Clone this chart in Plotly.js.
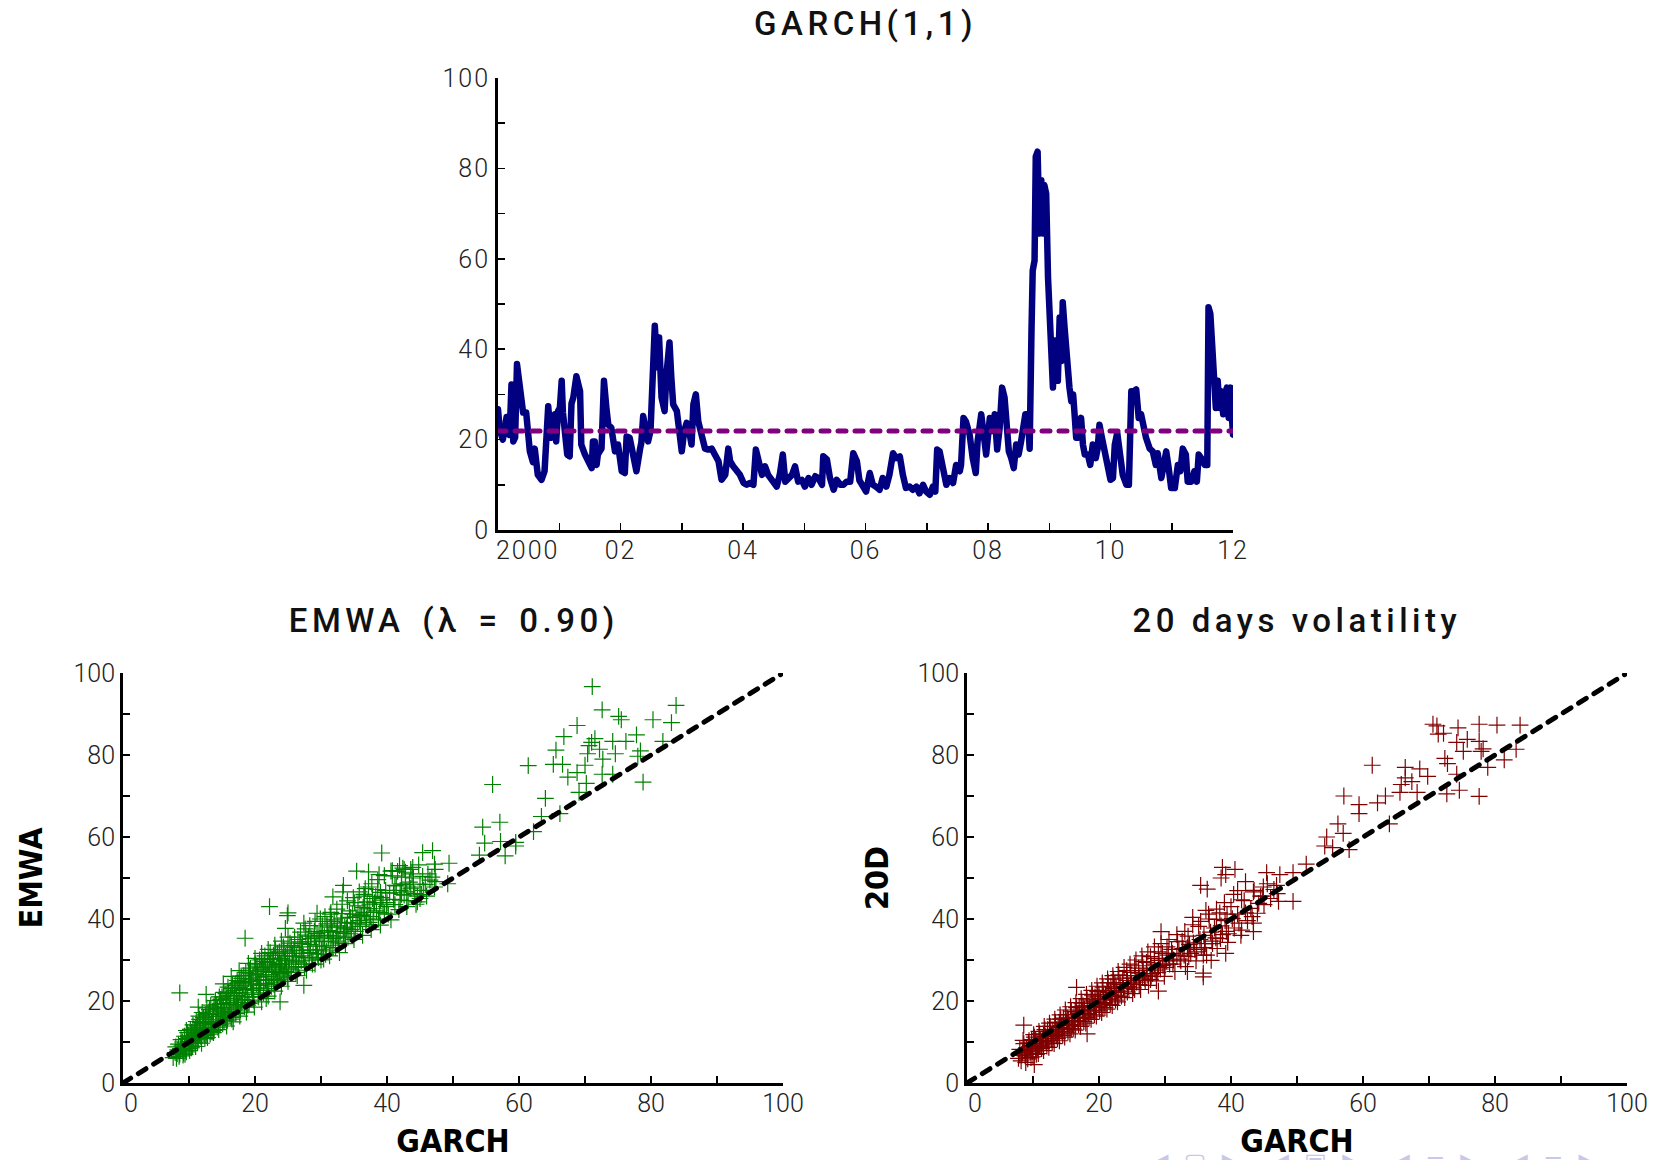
<!DOCTYPE html>
<html><head><meta charset="utf-8">
<script src="https://cdn.plot.ly/plotly-3.0.1.min.js"></script>
<style>
html,body{margin:0;padding:0;background:#fff;}
#chart{width:1660px;height:1160px;}
.xtick text,.ytick text{letter-spacing:2px;}
.js-line{stroke-linecap:round;stroke-linejoin:round;}
</style></head><body><div id="chart"></div>
<script>
// ---- GARCH(1,1) volatility over time (decimal years) ----
const garchDates = [
2000.00,2000.03,2000.08,2000.14,2000.19,2000.22,2000.25,2000.28,2000.31,2000.34,
2000.38,2000.41,2000.46,2000.49,2000.52,2000.57,2000.60,2000.65,2000.71,2000.76,
2000.79,2000.82,2000.84,2000.87,2000.90,2000.93,2000.95,2000.98,2001.01,2001.04,
2001.06,2001.09,2001.13,2001.17,2001.20,2001.23,2001.28,2001.34,2001.36,2001.42,
2001.47,2001.53,2001.55,2001.58,2001.61,2001.63,2001.69,2001.73,2001.77,2001.80,
2001.85,2001.91,2001.96,2002.02,2002.07,2002.10,2002.15,2002.21,2002.26,2002.32,
2002.34,2002.37,2002.40,2002.45,2002.49,2002.52,2002.56,2002.60,2002.63,2002.67,
2002.70,2002.72,2002.75,2002.80,2002.83,2002.86,2002.92,2002.97,2003.00,2003.04,
2003.08,2003.12,2003.16,2003.19,2003.23,2003.27,2003.30,2003.34,2003.38,2003.43,
2003.49,2003.54,2003.60,2003.65,2003.71,2003.76,2003.79,2003.84,2003.90,2003.95,
2004.01,2004.06,2004.11,2004.17,2004.21,2004.25,2004.31,2004.36,2004.41,2004.47,
2004.55,2004.60,2004.65,2004.69,2004.74,2004.80,2004.85,2004.90,2004.96,2005.01,
2005.07,2005.12,2005.18,2005.23,2005.29,2005.31,2005.37,2005.42,2005.48,2005.53,
2005.59,2005.64,2005.69,2005.75,2005.80,2005.86,
2005.90,2005.96,2006.01,2006.07,2006.12,2006.17,2006.23,2006.28,2006.34,2006.39,
2006.45,2006.50,2006.56,2006.61,2006.66,2006.72,2006.77,2006.83,2006.88,2006.94,
2006.99,2007.05,2007.10,2007.14,2007.17,2007.21,2007.26,2007.32,2007.37,2007.43,
2007.48,2007.54,2007.56,2007.60,2007.64,2007.70,2007.75,2007.80,2007.83,2007.89,
2007.93,2007.97,2008.03,2008.07,2008.11,2008.15,2008.19,2008.23,2008.27,2008.30,
2008.34,2008.38,2008.42,2008.46,2008.50,2008.54,2008.58,2008.61,2008.65,2008.68,
2008.71,2008.73,2008.76,2008.78,2008.81,2008.84,2008.87,2008.90,2008.92,2008.95,
2008.98,2009.01,2009.03,2009.06,2009.09,2009.11,2009.14,2009.17,2009.20,2009.22,
2009.25,2009.28,2009.30,2009.33,2009.36,2009.39,2009.41,2009.44,2009.47,2009.50,
2009.52,2009.55,2009.58,2009.63,2009.67,2009.71,2009.76,2009.79,2009.82,2009.85,
2009.90,2009.96,2010.00,2010.04,2010.07,2010.11,2010.15,2010.20,2010.26,2010.30,
2010.34,2010.38,2010.42,2010.46,2010.50,2010.54,2010.58,2010.64,2010.69,2010.74,
2010.77,2010.83,2010.87,2010.91,2010.95,2010.99,2011.05,2011.10,2011.14,2011.18,
2011.23,2011.26,2011.32,2011.37,2011.41,2011.44,2011.48,2011.54,2011.58,2011.60,
2011.63,2011.66,2011.69,2011.72,2011.75,2011.78,2011.81,2011.84,2011.87,2011.90,
2011.93,2011.96,2011.98,2012.00];
const garchVol = [
26.7,22.0,20.0,25.0,21.0,32.2,19.6,20.5,36.7,33.0,
30.0,26.0,26.0,22.6,17.4,15.0,18.0,12.2,11.1,13.0,
18.0,27.4,24.0,20.4,22.6,25.6,19.6,26.3,27.0,33.0,
26.0,20.4,16.7,16.3,28.0,29.3,34.0,30.7,18.9,16.7,
15.2,13.7,19.6,19.6,14.4,16.7,18.0,33.0,27.0,23.3,
22.6,17.4,18.9,13.0,12.6,20.7,20.4,16.7,13.0,18.0,
19.3,25.2,22.6,19.6,21.9,30.4,45.2,36.0,42.6,29.3,
27.0,26.3,34.4,41.5,33.7,27.8,26.3,21.9,17.4,21.9,
23.7,21.9,18.9,27.8,30.0,24.0,21.9,19.6,18.0,17.8,
18.0,16.7,15.2,11.1,12.2,18.0,15.2,14.1,13.0,12.2,
10.4,10.0,10.4,10.0,17.8,15.6,12.2,14.1,12.2,11.1,
9.6,12.2,16.7,10.7,11.5,12.2,14.1,10.7,11.1,9.6,
11.5,10.0,11.9,11.5,10.0,16.3,15.6,11.5,8.9,11.1,
10.0,10.0,10.7,10.7,17.0,15.2,
11.0,9.3,8.5,12.6,10.0,9.6,8.9,11.5,9.6,12.2,
17.0,15.9,16.3,12.2,9.3,9.6,8.9,9.6,8.1,10.0,
8.5,7.8,9.6,8.5,17.8,17.4,13.0,10.0,11.5,10.4,
14.4,13.0,14.4,24.8,24.0,21.1,15.9,12.6,19.6,25.6,
21.1,16.7,24.8,21.9,25.6,17.8,22.6,31.5,29.3,21.9,
17.4,15.9,13.7,18.9,16.7,19.6,22.6,25.6,25.6,18.0,
44.1,57.4,59.6,82.6,83.7,65.6,77.4,65.6,76.3,74.4,
55.9,42.6,37.4,31.5,41.9,33.0,33.0,47.0,37.4,50.4,
44.8,38.9,37.4,31.5,28.5,30.0,26.3,20.4,20.4,24.0,
24.8,18.9,16.7,16.7,14.4,18.9,15.9,18.0,23.3,21.1,
17.4,13.0,11.1,11.5,18.9,21.5,16.7,12.2,10.0,10.0,
30.7,30.7,31.1,24.8,25.6,21.9,20.4,18.0,17.4,14.4,
17.0,11.5,15.6,17.4,13.7,9.3,9.3,14.4,13.0,18.0,
16.7,10.7,10.7,13.0,10.7,16.7,15.9,14.4,14.4,49.3,
47.8,41.9,33.0,27.0,33.0,27.0,30.7,25.6,30.0,31.5,
24.8,31.5,25.6,21.1];
const garchMeanDates = [2000, 2012];
const garchMean = [21.9, 21.9];

// ---- EMWA (lambda = 0.90) vs GARCH: [GARCH, EMWA] ----
const emwaPairs = [
[7.6,6.2],[7.9,7.4],[8.1,6.0],[8.3,8.1],[8.4,9.5],[8.6,7.0],[8.8,10.6],[9.0,8.2],[9.1,6.8],[9.3,11.4],
[9.4,9.3],[9.6,7.6],[9.8,12.3],[9.9,10.1],[10.0,8.4],[10.2,13.1],[10.3,11.2],[10.5,9.0],[10.6,14.2],[10.8,12.0],
[10.9,9.8],[11.1,15.0],[11.2,12.9],[11.4,10.5],[11.5,16.3],[11.7,13.6],[11.8,11.3],[12.0,17.2],[12.1,14.5],[12.3,12.0],
[12.4,10.8],[12.6,15.6],[12.7,18.3],[12.9,13.1],[13.0,16.8],[13.2,11.9],[13.3,19.0],[13.5,14.2],[13.6,17.5],[13.8,12.8],
[14.0,20.1],[14.1,15.4],[14.3,18.2],[14.4,13.6],[14.6,21.0],[14.8,16.3],[14.9,19.4],[15.1,14.4],[15.3,22.1],[15.4,17.1],
[15.6,20.2],[15.8,15.3],[15.9,23.4],[16.1,18.0],[16.3,21.3],[16.4,16.0],[16.6,24.2],[16.8,19.1],[16.9,22.6],[17.1,16.9],
[17.3,25.0],[17.4,20.0],[17.6,23.3],[17.8,17.8],[17.9,26.1],[18.1,21.0],[18.3,24.5],[18.4,18.6],[18.6,27.0],[18.8,22.0],
[19.0,25.4],[19.1,19.4],[19.3,28.0],[19.5,23.0],[19.7,26.3],[19.8,20.2],[20.0,29.1],[20.2,24.1],[20.4,27.3],[20.5,21.0],
[20.7,30.0],[20.9,25.0],[21.1,28.2],[21.3,22.0],[21.5,31.0],[21.7,26.0],[21.9,29.4],[22.1,23.0],[22.3,31.8],[22.5,27.0],
[22.7,30.1],[22.9,24.0],[23.1,32.5],[23.3,28.1],[23.5,25.2],[23.7,31.1],[23.9,29.0],[24.1,26.1],[24.3,33.2],[24.5,30.0],
[24.7,27.2],[24.9,32.0],[25.1,28.0],[25.3,34.1],[25.6,30.9],[25.8,29.0],[26.0,33.0],[26.2,27.0],[26.5,35.0],[26.7,31.6],
[27.0,29.8],[27.2,34.0],[27.5,28.2],[27.7,36.1],[28.0,32.5],[28.2,30.5],[28.5,35.2],[28.7,29.0],[29.0,37.0],[29.2,33.4],
[29.5,31.4],[29.7,36.0],[30.0,30.0],[30.2,38.3],[30.5,34.5],[30.8,32.2],[31.0,37.2],[31.3,31.0],[31.6,39.4],[31.9,35.2],
[32.2,33.0],[32.5,38.3],[32.8,31.8],[33.1,40.2],[33.4,36.5],[33.7,34.0],[34.0,39.2],[34.3,42.0],[34.6,37.4],[35.0,35.0],
[35.3,40.5],[35.6,43.2],[36.0,38.2],[36.3,36.0],[36.6,41.6],[37.0,44.2],[37.3,39.2],[37.6,37.4],[38.0,42.5],[38.3,45.5],
[38.7,40.0],[39.0,38.5],[39.4,43.6],[39.8,47.0],[40.2,41.2],[40.6,39.8],[41.0,44.8],[41.4,48.1],[41.8,42.3],[42.2,50.2],
[42.6,45.8],[43.0,43.0],[43.4,49.0],[43.8,51.0],[44.2,46.2],[44.6,44.2],[45.0,48.5],[45.5,47.0],[46.0,45.6],[46.5,49.5],
[47.2,47.8],
[8.0,8.8],[8.5,6.5],[8.9,9.0],[9.2,7.3],[9.7,10.8],[10.1,7.9],[10.4,12.4],[10.7,10.4],[11.0,8.9],[11.3,14.0],
[11.6,11.8],[11.9,9.7],[12.2,16.0],[12.5,13.5],[12.8,11.1],[13.1,17.9],[13.4,15.0],[13.7,12.3],[14.2,19.2],[14.5,16.8],
[14.7,14.2],[15.0,21.0],[15.2,18.4],[15.5,15.8],[15.7,13.9],[16.0,22.2],[16.2,19.6],[16.5,17.2],[16.7,14.9],[17.0,23.8],
[17.2,21.3],[17.5,18.6],[17.7,16.3],[18.0,25.5],[18.2,23.0],[18.5,20.2],[18.7,17.3],[19.2,26.8],[19.4,24.2],[19.6,21.6],
[19.9,18.5],[20.3,28.3],[20.6,25.8],[20.8,23.2],[21.0,19.8],[21.4,29.6],[21.6,27.2],[21.8,24.3],[22.0,21.2],[22.4,30.4],
[22.6,28.3],[22.8,25.6],[23.0,22.4],[23.4,31.6],[23.6,29.2],[23.8,26.8],[24.0,23.6],[24.4,32.5],[24.6,29.8],[24.8,28.3],
[25.0,24.8],[25.5,33.5],[25.7,31.6],[26.1,29.5],[26.4,26.2],[26.8,34.4],[27.1,32.3],[27.4,30.6],[27.8,27.5],[28.1,35.8],
[28.4,33.8],[28.8,31.6],[29.1,29.0],[29.4,36.5],[29.8,34.6],[30.1,32.5],[30.4,30.2],[30.9,38.8],[31.2,36.0],[31.5,33.6],
[32.0,39.8],[32.4,35.8],[32.7,34.2],[33.2,41.3],[33.6,38.0],[34.1,35.6],[34.5,40.4],[35.1,44.0],[35.5,38.8],[36.1,40.8],
[36.5,46.0],[37.1,42.5],[37.5,40.6],[38.1,44.0],[38.6,47.2],[39.2,45.2],[39.6,41.4],[40.4,46.3],[40.8,50.5],[41.2,43.5],
[41.6,51.6],[42.0,47.0],[42.4,52.4],[42.8,48.4],[43.2,44.5],[43.6,47.5],[44.0,50.0],[44.4,43.6],[45.2,46.0],[46.2,51.0],
[8.2,7.2],[8.7,8.4],[9.0,10.0],[9.5,8.0],[9.6,12.8],[10.0,11.0],[10.4,8.6],[10.6,11.6],[11.0,13.6],[11.3,10.0],
[11.6,15.5],[12.0,12.6],[12.3,14.9],[12.6,11.6],[12.9,16.9],[13.2,14.3],[13.5,12.5],[13.8,18.6],[14.1,16.2],[14.4,14.8],
[14.8,20.4],[15.0,17.6],[15.3,15.2],[15.6,21.8],[15.9,19.3],[16.2,16.8],[16.5,23.0],[16.8,20.7],[17.1,18.3],[17.4,24.4],
[17.7,22.1],[18.0,19.6],[18.3,26.2],[18.6,23.7],[18.9,21.0],[19.2,27.5],[19.5,25.3],[19.8,22.6],[20.1,28.8],[20.4,26.4],
[20.7,23.8],[21.0,30.2],[21.3,27.8],[21.6,25.2],[21.9,22.6],[22.2,29.0],[22.5,26.4],[22.8,31.2],[23.1,27.6],[23.4,25.0],
[23.7,32.0],[24.0,28.8],[24.3,26.6],[24.6,31.0],[24.9,25.8],[25.2,30.0],[25.5,27.6],[25.9,32.4],[26.3,30.8],[26.6,28.4],
[27.0,33.2],[27.3,31.0],[27.6,29.0],[28.0,34.4],[28.3,31.8],[28.6,30.0],[29.0,35.6],[29.3,32.4],[29.6,30.6],[30.0,36.8],
[30.3,33.4],[30.7,31.4],[31.1,35.4],[31.4,38.0],[31.8,33.0],[32.3,37.0],[32.6,34.6],[33.0,39.0],[33.5,35.4],[33.9,37.8],
[34.4,36.4],[34.8,41.2],[35.2,37.0],[35.8,39.6],[36.4,42.8],[36.8,38.6],[37.4,43.6],[37.9,39.8],[38.4,42.0],[39.0,44.6],
[8.5,7.8],[9.0,9.4],[9.4,7.0],[9.9,11.5],[10.3,9.7],[10.8,13.2],[11.2,11.0],[11.7,14.8],[12.1,12.9],[12.5,16.6],
[12.9,14.6],[13.3,12.6],[13.7,17.0],[14.1,15.0],[14.5,13.0],[14.9,18.0],[15.3,16.4],[15.7,20.6],[16.1,17.4],[16.5,15.6],
[16.9,21.8],[17.3,19.0],[17.7,24.8],[18.1,20.4],[18.5,22.8],[18.9,19.0],[19.3,24.8],[19.7,21.0],[20.1,26.6],[20.5,22.6],
[20.9,27.6],[21.3,24.2],[21.7,20.6],[22.1,26.4],[22.5,23.6],[22.9,28.6],[23.3,24.6],[23.7,27.2],[24.1,30.4],[24.5,27.0],
[26.0,35.6],[26.9,36.8],[27.6,37.6],[28.3,38.4],[29.1,39.4],[29.9,40.0],[30.6,40.6],[31.5,41.6],[32.4,42.4],[33.2,43.6],
[34.0,44.4],[34.9,45.2],[35.8,46.6],[36.7,47.4],[37.7,48.6],[38.6,49.6],[39.6,50.6],[40.8,51.8],[41.9,53.0],[42.8,51.4],
[43.9,52.6],[44.8,53.2],[40.0,44.0],[41.0,46.4],[42.0,44.6],[43.0,46.6],[44.0,47.8],[45.0,45.0],[45.8,48.4],[46.8,50.2],
[34.8,39.0],[35.9,41.2],[36.9,40.0],[37.8,45.0],[38.9,41.6],[39.9,43.0],[33.8,37.6],[32.9,36.8],[31.7,36.8],[30.5,35.8],
[19.0,29.2],[20.0,30.4],[21.0,31.6],[22.0,32.6],[23.0,33.6],[24.0,34.6],[25.0,35.6],[17.6,27.4],[16.4,26.0],[15.2,24.2],
[71.1,96.7],[72.6,91.0],[83.8,92.1],[75.1,89.4],[75.5,88.6],[80.3,88.6],[83.1,87.9],[68.8,87.2],[66.8,84.5],[71.5,84.0],
[71.0,83.1],[74.2,83.3],[76.2,83.3],[77.8,84.9],[81.8,83.3],[65.6,81.2],[70.6,82.3],[72.2,81.4],[70.4,80.3],[74.6,80.3],
[78.0,79.7],[78.4,81.0],[72.7,79.0],[61.4,77.4],[65.2,77.7],[66.6,77.7],[70.0,77.5],[68.8,75.7],[67.4,74.6],[72.6,75.3],
[74.2,75.3],[70.2,73.1],[78.8,73.4],[56.0,72.8],[64.0,69.4],[69.1,70.9],[66.2,65.7],[63.4,65.0],[54.5,62.4],[57.1,63.6],
[62.2,61.3],[54.8,58.5],[57.2,58.9],[59.5,58.7],[57.9,55.4],[59.5,57.8],[54.0,55.6],[39.2,56.1],[45.4,56.2],[46.9,56.7],
[47.2,53.4],[49.4,53.6],[47.3,52.1],[35.4,51.7],[37.2,51.5],[40.6,51.7],[42.6,52.1],[43.6,52.1],[38.8,50.8],[45.4,50.4],
[47.4,49.1],[49.2,48.6],[33.4,48.2],[37.2,47.8],[41.2,48.2],[42.2,48.6],[31.8,45.4],[33.3,46.6],[36.6,45.6],[39.0,46.5],
[42.2,46.0],[44.6,45.6],[22.2,43.0],[25.0,41.5],[24.9,40.8],[29.4,41.4],[31.4,41.2],[24.6,37.7],[27.4,39.0],[18.5,35.3],
[8.6,22.0],[12.6,21.6],[11.4,18.5],[23.8,19.8],[27.4,23.8]];

// ---- 20 days volatility vs GARCH: [GARCH, 20D] ----
const d20Pairs = [
[7.8,6.0],[8.0,8.2],[8.2,5.4],[8.4,7.4],[8.6,9.6],[8.8,6.6],[9.0,8.6],[9.2,5.9],[9.4,10.3],[9.6,7.6],
[9.8,9.1],[10.0,6.4],[10.2,11.2],[10.4,8.3],[10.6,10.0],[10.8,7.2],[11.0,12.0],[11.2,9.2],[11.4,10.8],[11.6,7.9],
[11.8,13.0],[12.0,10.1],[12.2,11.8],[12.4,8.7],[12.6,13.8],[12.8,10.9],[13.0,12.7],[13.2,9.6],[13.4,14.8],[13.6,11.8],
[13.8,13.5],[14.0,10.3],[14.2,15.6],[14.4,12.6],[14.6,14.4],[14.8,11.2],[15.0,16.7],[15.2,13.4],[15.4,15.3],[15.6,12.0],
[15.8,17.5],[16.0,14.3],[16.2,16.1],[16.4,12.9],[16.6,18.4],[16.8,15.2],[17.0,17.0],[17.2,13.8],[17.4,19.5],[17.6,16.0],
[17.8,18.0],[18.0,14.6],[18.2,20.3],[18.4,17.0],[18.6,18.8],[18.8,15.5],[19.0,21.4],[19.2,17.8],[19.4,19.8],[19.6,16.3],
[19.8,22.3],[20.0,18.7],[20.2,20.6],[20.4,17.2],[20.6,23.4],[20.8,19.6],[21.0,21.6],[21.2,18.0],[21.4,24.5],[21.6,20.5],
[21.8,22.5],[22.0,18.9],[22.2,25.3],[22.4,21.4],[22.6,23.4],[22.8,19.8],[23.0,26.4],[23.3,22.4],[23.6,24.5],[23.9,20.8],
[24.2,27.4],[24.5,23.5],[24.8,25.6],[25.1,21.8],[25.4,28.6],[25.7,24.6],[26.0,26.8],[26.3,22.8],[26.6,29.6],[26.9,25.6],
[27.2,27.8],[27.5,23.8],[27.8,30.8],[28.1,26.7],[28.4,29.0],[28.7,24.9],[29.0,32.0],[29.3,27.8],[29.6,30.3],[29.9,26.0],
[30.3,33.2],[30.7,29.0],[31.1,31.6],[31.5,27.2],[31.9,34.5],[32.3,30.2],[32.7,32.8],[33.1,28.4],[33.5,35.8],[33.9,31.6],
[34.3,34.2],[34.7,29.8],[35.1,38.2],[35.5,33.0],[35.9,36.0],[36.3,31.2],[36.7,40.0],[37.1,34.6],[37.5,37.8],[37.9,32.8],
[38.3,41.5],[38.7,36.2],[39.1,39.6],[39.5,34.3],[40.0,43.0],[40.5,37.8],[41.0,41.2],[41.5,36.0],[42.0,44.5],[42.5,39.6],
[43.0,42.6],[43.5,47.0],[44.0,41.4],[44.5,45.6],[45.0,43.5],[45.5,48.6],[46.0,45.0],[46.5,47.2],[47.0,46.2],
[8.3,6.8],[8.7,8.1],[9.1,7.1],[9.5,8.9],[9.9,7.8],[10.3,9.6],[10.7,8.6],[11.1,10.4],[11.5,9.5],[11.9,11.3],
[12.3,10.4],[12.7,12.2],[13.1,11.3],[13.5,13.1],[13.9,12.2],[14.3,14.0],[14.7,13.1],[15.1,14.9],[15.5,14.0],[15.9,15.8],
[16.3,14.9],[16.7,16.7],[17.1,15.8],[17.5,17.6],[17.9,16.7],[18.3,18.5],[18.7,17.6],[19.1,19.4],[19.5,18.5],[19.9,20.3],
[20.3,19.4],[20.7,21.2],[21.1,20.3],[21.5,22.1],[21.9,21.2],[22.3,23.0],[22.7,22.1],[23.2,24.0],[23.7,23.1],[24.3,25.0],
[24.9,24.2],[25.5,26.2],[26.1,25.3],[26.7,27.4],[27.3,26.3],[27.9,28.6],[28.5,27.5],[29.1,29.9],[29.7,28.7],[30.5,31.2],
[31.3,30.0],[32.1,32.6],[32.9,31.2],[33.7,33.8],[34.5,32.6],[35.3,35.0],[36.1,34.0],[36.9,36.8],[37.7,35.4],[38.5,38.3],
[39.3,37.0],[40.2,40.1],[41.2,39.0],[42.2,41.5],[43.2,40.6],[44.2,43.8],
[8.0,6.8],[8.5,10.4],[8.9,5.0],[9.3,9.8],[9.7,6.2],[10.1,11.8],[10.5,7.0],[10.9,12.6],[11.3,8.4],[11.7,13.8],
[12.1,9.0],[12.5,14.6],[12.9,9.8],[13.3,15.6],[13.7,10.8],[14.1,16.6],[14.5,11.6],[14.9,17.8],[15.3,12.4],[15.7,18.6],
[16.1,13.2],[16.5,19.6],[16.9,14.2],[17.3,20.6],[17.7,15.0],[18.1,21.6],[18.5,15.8],[18.9,22.6],[19.3,16.6],[19.7,23.6],
[20.1,17.6],[20.5,24.4],[20.9,18.4],[21.3,25.4],[21.7,19.2],[22.1,26.2],[22.5,20.2],[22.9,27.2],[23.4,21.2],[23.8,28.2],
[24.3,22.2],[24.7,29.0],[25.2,23.2],[25.6,30.0],[26.1,24.0],[26.5,31.0],[27.0,25.0],[27.4,32.0],[27.9,26.0],[28.4,33.2],
[28.9,27.0],[29.4,34.0],[30.0,28.2],[30.6,35.0],[31.2,29.0],[31.8,36.2],[32.4,29.8],[33.0,37.0],[33.6,30.8],[34.2,38.6],
[34.8,32.0],[35.4,39.4],[36.0,33.0],[36.6,41.2],[37.2,34.0],[37.8,42.4],[38.4,35.2],[39.0,44.0],[39.6,36.4],[40.4,46.0],
[9.2,8.0],[9.8,10.6],[10.4,10.6],[11.0,9.0],[11.6,11.8],[12.2,13.0],[12.8,11.6],[13.4,12.2],[14.0,14.8],[14.6,15.8],
[15.2,15.8],[15.8,13.2],[16.4,17.4],[17.0,18.6],[17.6,18.8],[18.2,16.0],[18.8,20.0],[19.4,21.0],[20.0,21.6],[20.6,18.4],
[21.2,22.6],[21.8,23.6],[22.4,24.2],[23.0,21.0],[23.6,25.6],[24.2,26.2],[24.8,27.0],[25.4,22.8],[26.0,28.0],[26.6,26.2],
[27.2,29.4],[27.8,25.2],[28.4,30.4],[29.0,28.4],[29.6,31.6],[30.2,29.8],[31.0,32.6],[31.8,31.0],[32.6,34.6],[33.4,33.0],
[70.6,87.5],[71.2,87.1],[72.2,85.3],[71.4,85.1],[77.6,87.5],[80.3,87.3],[83.8,87.3],[74.4,86.6],[74.2,83.1],[75.8,83.8],
[77.6,83.3],[75.2,80.9],[78.2,81.5],[77.9,80.9],[83.2,81.4],[81.4,78.8],[72.4,79.2],[72.8,77.9],[61.4,77.5],[66.4,77.0],
[68.6,76.6],[69.8,74.8],[66.4,74.4],[67.4,73.5],[65.8,72.8],[74.2,75.3],[74.6,71.4],[72.7,70.5],[78.9,77.0],[77.6,69.9],
[68.2,70.9],[65.6,70.9],[63.4,70.0],[57.1,70.0],[62.2,68.3],[59.4,67.9],[59.4,65.7],[56.2,63.2],[64.0,63.2],[54.5,60.0],
[57.0,60.9],[54.2,57.8],[55.4,57.4],[57.9,56.9],[51.4,53.4],[35.4,48.2],[36.4,47.3],[38.7,52.6],[39.2,50.8],[40.6,52.1],
[38.5,50.0],[45.4,51.3],[47.4,50.8],[49.4,51.3],[42.2,49.1],[44.9,47.8],[46.9,48.2],[41.0,46.9],[43.4,46.6],[44.8,45.6],
[47.2,44.3],[49.4,44.3],[39.4,41.2],[41.6,44.7],[34.2,40.4],[36.2,42.1],[37.8,39.9],[43.4,39.0],[43.4,36.9],[41.6,37.3],
[39.2,31.6],[35.8,31.2],[37.0,29.9],[33.4,27.2],[35.8,26.8],[35.8,25.9],[29.4,36.9],[29.0,22.4],[16.6,23.3],[8.6,14.1],
[10.2,4.5],[18.2,12.0]];

const diagX = [0, 100];
const diagY = [0, 100];
const yearTickVals = [2000,2002,2004,2006,2008,2010,2012];
const yearTickText = ['','02','04','06','08','10','12'];
const yearMinor = [2001,2003,2005,2007,2009,2011];
const volTickVals = [0,20,40,60,80,100];
const volTickText = ['0','20','40','60','80','100'];
const scatXTickText = ['','20','40','60','80','100'];
const volMinor = [10,30,50,70,90];
const navSymbols = '◀\u00a0\u00a0▢\u00a0\u00a0▶\u00a0\u00a0\u00a0\u00a0◀\u00a0\u00a0▣\u00a0\u00a0▶\u00a0\u00a0\u00a0\u00a0◀\u00a0\u00a0≡\u00a0\u00a0▶\u00a0\u00a0\u00a0\u00a0◀\u00a0\u00a0≡\u00a0\u00a0▶';

const W = 1660, H = 1160;
const tickFont = {family:'Roboto, "DejaVu Sans", sans-serif', size:25, color:'#222', weight:300};
const titleFont = {family:'Roboto, "DejaVu Sans", sans-serif', size:33, color:'#111', weight:500};
const axTitleFont = {family:'"Liberation Sans Narrow", "DejaVu Sans Condensed", "DejaVu Sans", sans-serif', size:32, color:'#000', weight:'bold'};

function axisBase(extra){
  return Object.assign({
    showline:true, linecolor:'#000', linewidth:3, mirror:false,
    showgrid:false, zeroline:false,
    ticks:'inside', ticklen:7, tickwidth:1.5, tickcolor:'#000',
    tickfont:tickFont, tickmode:'array', fixedrange:true
  }, extra);
}
const minorVol = {tickmode:'array', tickvals:volMinor, ticks:'inside', ticklen:7, tickwidth:1.5, tickcolor:'#000'};

const emwaX = emwaPairs.map(p=>p[0]), emwaY = emwaPairs.map(p=>p[1]);
const d20X = d20Pairs.map(p=>p[0]), d20Y = d20Pairs.map(p=>p[1]);

const traces = [
  {x:garchDates, y:garchVol, xaxis:'x', yaxis:'y', mode:'lines', line:{color:'#000080', width:6.5}},
  {x:garchMeanDates, y:garchMean, xaxis:'x', yaxis:'y', mode:'lines', line:{color:'#800080', width:5, dash:'8px,9px'}},
  {x:emwaX, y:emwaY, xaxis:'x2', yaxis:'y2', mode:'markers', marker:{symbol:'cross-thin-open', size:12, color:'#008000', line:{width:1.2, color:'#008000'}}},
  {x:diagX, y:diagY, xaxis:'x2', yaxis:'y2', mode:'lines', line:{color:'#000', width:5, dash:'9px,9px'}},
  {x:d20X, y:d20Y, xaxis:'x3', yaxis:'y3', mode:'markers', marker:{symbol:'cross-thin-open', size:12, color:'#800000', line:{width:1.2, color:'#800000'}}},
  {x:diagX, y:diagY, xaxis:'x3', yaxis:'y3', mode:'lines', line:{color:'#000', width:5, dash:'9px,9px'}}
];

const layout = {
  width:W, height:H, showlegend:false,
  paper_bgcolor:'#fff', plot_bgcolor:'#fff',
  margin:{l:0,r:0,t:0,b:0},
  title:{text:'GARCH(1,1)', font:titleFont, x:865.5/W, xanchor:'center', y:1-23/H, yanchor:'middle', xref:'paper', yref:'paper'},
  xaxis: axisBase({domain:[498/W,1233/W], range:[2000,2012], anchor:'y', tickvals:yearTickVals, ticktext:yearTickText, ticklabelstandoff:-4,
    minor:{tickmode:'array', tickvals:yearMinor, ticks:'inside', ticklen:7, tickwidth:1.5, tickcolor:'#000'}}),
  yaxis: axisBase({domain:[1-530/H,1-78/H], range:[0,100], anchor:'x', tickvals:volTickVals, ticktext:volTickText, minor:minorVol}),
  xaxis2: axisBase({domain:[123/W,783/W], range:[0,100], anchor:'y2', tickvals:volTickVals, ticktext:scatXTickText, minor:minorVol, ticklabelstandoff:-4,
    title:{text:'GARCH', font:axTitleFont, standoff:30}}),
  yaxis2: axisBase({domain:[1-1083/H,1-673/H], range:[0,100], anchor:'x2', tickvals:volTickVals, ticktext:volTickText, minor:minorVol,
    title:{text:'EMWA', font:axTitleFont, standoff:22}}),
  xaxis3: axisBase({domain:[967/W,1627/W], range:[0,100], anchor:'y3', tickvals:volTickVals, ticktext:scatXTickText, minor:minorVol, ticklabelstandoff:-4,
    title:{text:'GARCH', font:axTitleFont, standoff:30}}),
  yaxis3: axisBase({domain:[1-1083/H,1-673/H], range:[0,100], anchor:'x3', tickvals:volTickVals, ticktext:volTickText, minor:minorVol,
    title:{text:'20D', font:axTitleFont, standoff:20}}),
  annotations:[
    {text:'EMWA (λ = 0.90)', xref:'paper', yref:'paper', x:453/W, y:1-620/H, xanchor:'center', yanchor:'middle', showarrow:false, font:titleFont},
    {text:'20 days volatility', xref:'paper', yref:'paper', x:1297/W, y:1-620/H, xanchor:'center', yanchor:'middle', showarrow:false, font:titleFont},
    {text:'2000', xref:'x', yref:'paper', x:2000, y:1-550/H, xanchor:'left', yanchor:'middle', showarrow:false, font:tickFont},
    {text:'0', xref:'x2', yref:'paper', x:0, y:1-1103/H, xanchor:'left', yanchor:'middle', showarrow:false, font:tickFont},
    {text:'0', xref:'x3', yref:'paper', x:0, y:1-1103/H, xanchor:'left', yanchor:'middle', showarrow:false, font:tickFont},
    {text:navSymbols, xref:'paper', yref:'paper', x:1373/W, y:-0.002, xanchor:'center', yanchor:'middle', showarrow:false,
      font:{family:'"DejaVu Sans", sans-serif', size:24, color:'#c8c8ea'}}
  ]
};

Plotly.newPlot('chart', traces, layout, {staticPlot:true, displayModeBar:false}).then(function(){
  document.querySelectorAll('.gtitle').forEach(function(t){ t.style.letterSpacing='4.5px'; });
  document.querySelectorAll('.annotation-text').forEach(function(t){
    var s = t.textContent;
    if (s.indexOf('EMWA')===0) { t.style.letterSpacing='4.5px'; t.style.wordSpacing='5px'; }
    else if (s.indexOf('20 days')===0) t.style.letterSpacing='4.5px';
    else if (s==='2000' || s==='0') t.style.letterSpacing='2px';
  });
});
</script></body></html>
